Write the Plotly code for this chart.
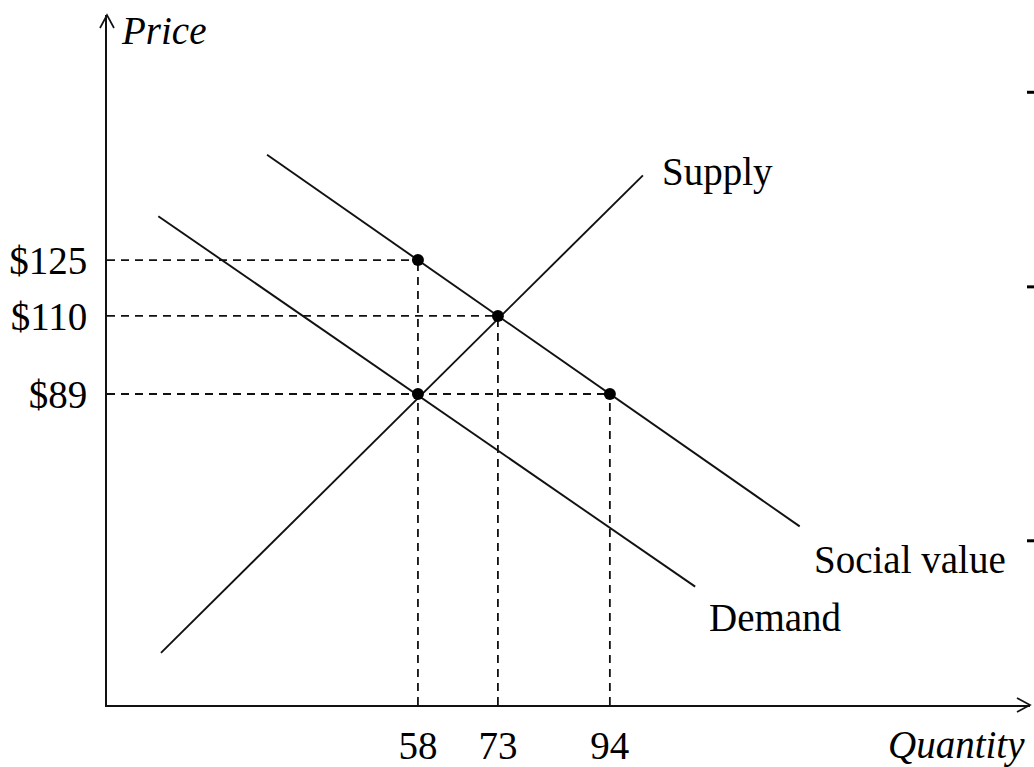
import plotly.graph_objects as go

# ---- data ----
supply_q = [9.8, 100.2]
supply_p = [19.4, 147.8]
demand_q = [9.3, 110.0]
demand_p = [136.8, 37.2]
social_q = [29.7, 129.6]
social_p = [153.3, 53.4]

point_q = [58, 73, 94, 58]
point_p = [125, 110, 89, 89]

price_ticks = [125, 110, 89]
price_labels = ["$125", "$110", "$89"]
qty_ticks = [58, 73, 94]
qty_labels = ["58", "73", "94"]

# guide lines: (price level, quantity where it ends)
h_guides_p = [125, 110, 89]
h_guides_q = [58, 73, 94]
v_guides_q = [58, 73, 94]
v_guides_p = [125, 110, 89]

X_RANGE = [-0.32, 172.8]
Y_RANGE = [5.38, 190.9]

FONT = "Liberation Serif"
FS = 39
LINE = "#111111"

fig = go.Figure()

# dashed guides
for p, q in zip(h_guides_p, h_guides_q):
    fig.add_trace(go.Scatter(x=[X_RANGE[0], q], y=[p, p], mode="lines",
                             line=dict(color=LINE, width=1.8, dash="8px,6px"),
                             hoverinfo="skip", showlegend=False))
for q, p in zip(v_guides_q, v_guides_p):
    fig.add_trace(go.Scatter(x=[q, q], y=[Y_RANGE[0], p], mode="lines",
                             line=dict(color=LINE, width=1.8, dash="8px,6px"),
                             hoverinfo="skip", showlegend=False))

# curves
for qs, ps in [(supply_q, supply_p), (demand_q, demand_p), (social_q, social_p)]:
    fig.add_trace(go.Scatter(x=qs, y=ps, mode="lines",
                             line=dict(color=LINE, width=1.9),
                             hoverinfo="skip", showlegend=False))

# points
fig.add_trace(go.Scatter(x=point_q, y=point_p, mode="markers",
                         marker=dict(color="black", size=12),
                         hoverinfo="skip", showlegend=False))

# text labels
tf = dict(family=FONT, size=FS, color="black")
fig.add_annotation(x=103.4, y=148.7, text="Supply", showarrow=False,
                   xanchor="left", yanchor="middle", font=tf)
fig.add_annotation(x=131.9, y=44.4, text="Social value", showarrow=False,
                   xanchor="left", yanchor="middle", font=tf)
fig.add_annotation(x=112.2, y=28.8, text="Demand", showarrow=False,
                   xanchor="left", yanchor="middle", font=tf)
fig.add_annotation(x=2.0, y=186.8, text="<i>Price</i>", showarrow=False,
                   xanchor="left", yanchor="middle", font=tf)
fig.add_annotation(xref="paper", yref="paper", x=0.997, y=-0.058, text="<i>Quantity</i>",
                   showarrow=False, xanchor="right", yanchor="middle", font=tf)

# axis arrowheads (open V)
fig.add_shape(type="path", xref="paper", yref="paper", xsizemode="pixel", ysizemode="pixel",
              xanchor=0, yanchor=1,
              path="M -7,-13 L 0,0 L 7,-13", line=dict(color=LINE, width=1.7))
fig.add_shape(type="path", xref="paper", yref="paper", xsizemode="pixel", ysizemode="pixel",
              xanchor=1, yanchor=0,
              path="M -13,7 L 0,0 L -13,-7", line=dict(color=LINE, width=1.7))

# small marks at the right edge of the original image
for yp in [0.888, 0.606, 0.238]:
    fig.add_shape(type="rect", xref="paper", yref="paper", xsizemode="pixel", ysizemode="pixel",
                  xanchor=1, yanchor=yp, x0=-3, x1=4, y0=-1.5, y1=1.5,
                  fillcolor="black", line=dict(width=0))

fig.update_layout(
    width=1034, height=767,
    margin=dict(l=107, r=4, t=15, b=62, autoexpand=False),
    paper_bgcolor="white", plot_bgcolor="white",
    font=dict(family=FONT, size=FS, color="black"),
    xaxis=dict(range=X_RANGE, showgrid=False, zeroline=False, showline=True,
               linecolor=LINE, linewidth=2, tickmode="array", tickvals=qty_ticks,
               ticktext=qty_labels, ticks="", ticklabelstandoff=5, automargin=False,
               tickfont=tf),
    yaxis=dict(range=Y_RANGE, showgrid=False, zeroline=False, showline=True,
               linecolor=LINE, linewidth=2, tickmode="array", tickvals=price_ticks,
               ticktext=price_labels, ticks="", ticklabelstandoff=10, automargin=False,
               tickfont=tf),
)

fig.write_html("out.html", config={"displayModeBar": False, "staticPlot": True},
               post_script="document.body.style.margin='0px';document.body.style.overflow='hidden';")
